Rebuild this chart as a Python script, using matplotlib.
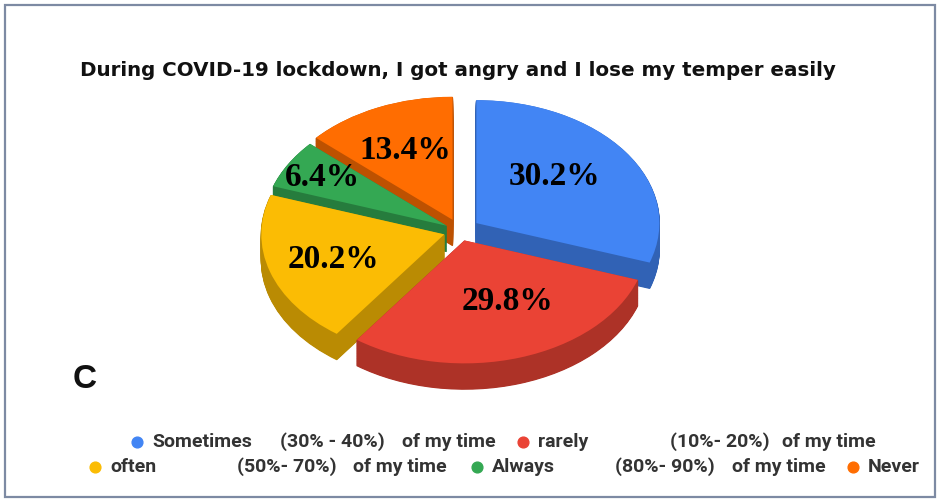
import numpy as np
import matplotlib
matplotlib.use("Agg")
import matplotlib.pyplot as plt
from matplotlib.colors import to_rgb
from matplotlib.patches import Rectangle

# ---- data ----
categories = ["Sometimes", "rarely", "often", "Always", "Never"]
ranges = ["(30% - 40%)", "(10%- 20%)", "(50%- 70%)", "(80%- 90%)", ""]
suffix = ["of my time", "of my time", "of my time", "of my time", ""]
values = [30.2, 29.8, 20.2, 6.4, 13.4]
title = "During COVID-19 lockdown, I got angry and I lose my temper easily"
panel = "C"

# ---- style ----
colors = ["#4285F4", "#EA4335", "#FBBC04", "#34A853", "#FF6D01"]
explode = [0.11, 0.08, 0.09, 0.085, 0.10]
label_r = [0.68, 0.63, 0.73, 0.87, 0.72]
label_dth = [4.6, 6.8, 1.2, 0.0, 0.3]

W, H = 942, 501
cx, cy = 460, 231      # pie centre in pixels (from top-left)
rx, ry = 183, 123      # ellipse radii in pixels
depth = 0.21           # side depth, in pie units (vertical)

fig = plt.figure(figsize=(W / 100, H / 100), dpi=100)
fig.patch.set_facecolor("white")
ax = fig.add_axes([0, 0, 1, 1])

dark = [tuple(c * 0.74 for c in to_rgb(col)) for col in colors]
n = 36
for d in np.linspace(depth, 0, n, endpoint=False):
    ax.pie(values, explode=explode, colors=dark, startangle=90,
           counterclock=False, center=(0, -d),
           wedgeprops=dict(linewidth=0.8, edgecolor=None))
    for p in ax.patches[-len(values):]:
        p.set_edgecolor(p.get_facecolor())

wedges, texts, autotexts = ax.pie(
    values, explode=explode, colors=colors, startangle=90,
    counterclock=False, autopct="%.1f%%", pctdistance=0.6,
    wedgeprops=dict(linewidth=0),
    textprops=dict(family="Liberation Serif", fontweight="bold",
                   fontsize=24, color="black"))
for w, t, r, dth in zip(wedges, autotexts, label_r, label_dth):
    th = np.deg2rad((w.theta1 + w.theta2) / 2 + dth)
    t.set_position((r * np.cos(th), r * np.sin(th)))
    t.set_zorder(10)

ax.set_aspect("auto")
ax.set_xlim(-cx / rx, (W - cx) / rx)
ax.set_ylim(-(H - cy) / ry, cy / ry)
ax.axis("off")

# ---- overlay in pixel coordinates ----
ax2 = fig.add_axes([0, 0, 1, 1])
ax2.set_xlim(0, W)
ax2.set_ylim(H, 0)
ax2.axis("off")
ax2.patch.set_alpha(0)

ax2.text(458, 70, title, ha="center", va="center", fontsize=14.3,
         fontweight="bold", family="DejaVu Sans", color="#111111")
ax2.text(85, 380, panel, ha="center", va="center", fontsize=24,
         fontweight="bold", family="Liberation Sans", color="#111111")

# legend (flow layout, two rows)
leg_rows = [442, 442, 467, 467, 467]
leg_dot = [137, 523, 95, 477, 853]
leg_range_x = [280, 670, 237, 615, None]
leg_suffix_x = [402, 782, 353, 732, None]
lt = dict(fontsize=14, family="Roboto", fontweight="bold",
          color="#333333", va="center", ha="left")
for i, name in enumerate(categories):
    y = leg_rows[i]
    ax2.scatter([leg_dot[i]], [y], s=60, color=colors[i], zorder=5)
    ax2.text(leg_dot[i] + 15, y, name, **lt)
    if ranges[i]:
        ax2.text(leg_range_x[i], y, ranges[i], **lt)
        ax2.text(leg_suffix_x[i], y, suffix[i], **lt)

fig.patches.append(Rectangle((5 / W, 1 - 497 / H), 930 / W, 492 / H,
                             transform=fig.transFigure, fill=False,
                             edgecolor="#7d8aa3", linewidth=1.6))

fig.savefig("out.png", dpi=100)
